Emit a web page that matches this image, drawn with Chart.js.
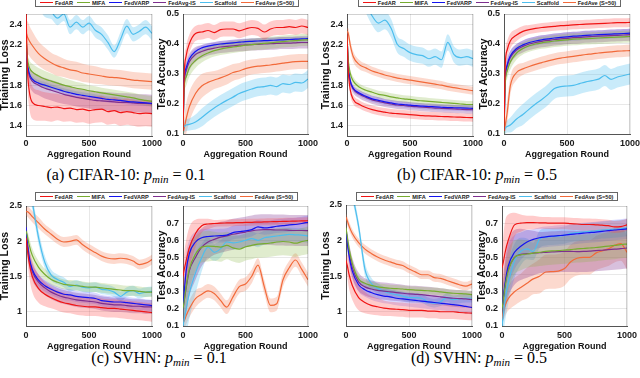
<!DOCTYPE html>
<html>
<head>
<meta charset="utf-8">
<script src="https://cdn.jsdelivr.net/npm/chart.js@4.4.0/dist/chart.umd.min.js"></script>
<style>
body { margin: 0; background: #fff; width: 640px; height: 378px; overflow: hidden; position: relative; }
canvas { position: absolute; }
.legend { position: absolute; height: 7px; border: 1px solid #666; display: flex; justify-content: space-evenly; align-items: center;
  font: bold 5.6px "Liberation Sans", Arial, sans-serif; color: #222; background: #fff; white-space: nowrap; z-index: 5; }
.legend span { display: flex; align-items: center; }
.legend i { display: inline-block; width: 13px; height: 1.5px; margin-right: 2px; }
.cap { position: absolute; width: 300px; text-align: center; line-height: 18px; font-family: "Liberation Serif", "Times New Roman", serif; font-size: 16px; color: #000; }
.cap sub { font-size: 11px; vertical-align: -3px; line-height: 0; }
</style>
</head>
<body>
<div class="legend" id="lg1" style="left:35px;top:-2px;width:262px"></div>
<div class="legend" id="lg2" style="left:358px;top:-2px;width:261px"></div>
<div class="legend" id="lg3" style="left:35px;top:192px;width:261px"></div>
<div class="legend" id="lg4" style="left:356px;top:192px;width:260px"></div>

<div class="cap" style="left:-24px;top:166px">(a) CIFAR-10: <i>p</i><sub><i>min</i></sub> = 0.1</div>
<div class="cap" style="left:327px;top:166px">(b) CIFAR-10: <i>p</i><sub><i>min</i></sub> = 0.5</div>
<div class="cap" style="left:9px;top:349px">(c) SVHN: <i>p</i><sub><i>min</i></sub> = 0.1</div>
<div class="cap" style="left:329px;top:349px">(d) SVHN: <i>p</i><sub><i>min</i></sub> = 0.5</div>

<script>
const methods = ['FedAR', 'MIFA', 'FedVARP', 'FedAvg-IS', 'Scaffold', 'FedAve (S=50)'];
const lineColors = ['#f01414', '#77ac30', '#1414f0', '#7e2f8e', '#4dbeee', '#f26a3a'];
const bandColors = ['rgba(255,70,70,0.28)', 'rgba(130,180,60,0.25)', 'rgba(60,60,255,0.2)',
                    'rgba(126,47,142,0.3)', 'rgba(77,190,238,0.3)', 'rgba(245,120,80,0.28)'];

const rounds = [0, 10, 25, 50, 100, 150, 200, 250, 300, 350, 400, 450, 500, 550, 600, 650, 700, 750, 800, 850, 900, 950, 1000];
const xTicks = [0, 500, 1000];
const lossTicksTop = [1.4, 1.6, 1.8, 2, 2.2, 2.4];
const lossTicksBottom = [1, 1.5, 2, 2.5];
const accTicksTop = [0.1, 0.2, 0.3, 0.4, 0.5];
const accTicksBottom = [0.1, 0.2, 0.3, 0.4, 0.5, 0.6, 0.7];

// (a) CIFAR-10 p_min = 0.1
const lossA = [
  [2.55,2.0,1.75,1.63,1.6,1.59,1.58,1.585,1.57,1.575,1.56,1.565,1.55,1.56,1.565,1.54,1.55,1.53,1.54,1.53,1.52,1.525,1.52],
  [2.3,2.08,1.98,1.93,1.89,1.86,1.84,1.82,1.8,1.785,1.77,1.76,1.745,1.735,1.725,1.715,1.705,1.695,1.685,1.675,1.66,1.65,1.64],
  [2.3,2.04,1.92,1.86,1.82,1.8,1.78,1.76,1.74,1.725,1.71,1.7,1.69,1.68,1.67,1.66,1.655,1.65,1.64,1.635,1.63,1.625,1.62],
  [2.3,2.02,1.9,1.84,1.8,1.77,1.75,1.73,1.71,1.695,1.68,1.67,1.66,1.65,1.645,1.64,1.635,1.63,1.63,1.625,1.62,1.62,1.615],
  [3.2,3.0,2.9,2.8,2.65,2.55,2.52,2.46,2.5,2.37,2.42,2.37,2.41,2.34,2.3,2.22,2.13,2.25,2.38,2.3,2.33,2.37,2.31],
  [2.33,2.28,2.24,2.19,2.11,2.06,2.02,1.99,1.97,1.95,1.94,1.92,1.91,1.9,1.89,1.88,1.875,1.87,1.86,1.85,1.845,1.84,1.835]
];
const lossA_sd = [
  [0.05,0.14,0.16,0.16,0.15,0.14,0.14,0.13,0.13,0.13,0.13,0.13,0.13,0.13,0.13,0.13,0.13,0.13,0.13,0.13,0.13,0.13,0.13],
  [0.02,0.05,0.07,0.08,0.08,0.08,0.075,0.07,0.07,0.065,0.06,0.06,0.055,0.055,0.05,0.05,0.05,0.05,0.05,0.05,0.05,0.05,0.05],
  [0.02,0.03,0.03,0.03,0.03,0.03,0.03,0.03,0.03,0.03,0.03,0.03,0.03,0.03,0.03,0.03,0.03,0.03,0.03,0.03,0.03,0.03,0.03],
  [0.02,0.07,0.09,0.1,0.1,0.1,0.1,0.1,0.095,0.09,0.09,0.09,0.09,0.09,0.09,0.09,0.09,0.09,0.09,0.09,0.09,0.09,0.09],
  [0.08,0.08,0.08,0.08,0.08,0.08,0.07,0.07,0.07,0.07,0.07,0.07,0.07,0.07,0.07,0.07,0.06,0.07,0.07,0.07,0.07,0.07,0.07],
  [0.05,0.15,0.15,0.14,0.12,0.11,0.1,0.1,0.09,0.09,0.09,0.09,0.085,0.085,0.08,0.08,0.08,0.08,0.08,0.08,0.08,0.08,0.08]
];
const accA = [
  [0.11,0.3,0.36,0.4,0.435,0.44,0.445,0.438,0.448,0.45,0.45,0.444,0.45,0.455,0.452,0.44,0.45,0.455,0.455,0.458,0.455,0.46,0.455],
  [0.1,0.26,0.29,0.32,0.345,0.36,0.37,0.378,0.383,0.387,0.39,0.393,0.396,0.398,0.4,0.402,0.404,0.406,0.408,0.41,0.411,0.413,0.414],
  [0.1,0.28,0.32,0.35,0.375,0.387,0.393,0.397,0.4,0.402,0.404,0.406,0.408,0.409,0.41,0.411,0.412,0.413,0.414,0.415,0.416,0.417,0.418],
  [0.1,0.27,0.31,0.34,0.365,0.375,0.382,0.386,0.39,0.392,0.394,0.396,0.397,0.398,0.399,0.4,0.401,0.402,0.403,0.403,0.404,0.405,0.405],
  [0.12,0.125,0.13,0.132,0.14,0.155,0.172,0.187,0.2,0.212,0.223,0.235,0.243,0.25,0.256,0.258,0.262,0.258,0.268,0.265,0.272,0.27,0.283],
  [0.1,0.12,0.15,0.19,0.235,0.26,0.272,0.28,0.287,0.295,0.305,0.31,0.318,0.323,0.326,0.328,0.33,0.333,0.336,0.339,0.341,0.342,0.342]
];
const accA_sd = [
  [0.01,0.03,0.03,0.03,0.025,0.025,0.025,0.025,0.025,0.025,0.025,0.025,0.025,0.025,0.025,0.025,0.025,0.025,0.025,0.025,0.025,0.025,0.025],
  [0.01,0.03,0.03,0.03,0.025,0.022,0.02,0.02,0.02,0.02,0.02,0.02,0.02,0.02,0.02,0.02,0.02,0.02,0.02,0.02,0.02,0.02,0.02],
  [0.01,0.015,0.015,0.012,0.01,0.01,0.01,0.01,0.01,0.01,0.01,0.01,0.01,0.01,0.01,0.01,0.01,0.01,0.01,0.01,0.01,0.01,0.01],
  [0.01,0.03,0.03,0.028,0.025,0.022,0.02,0.02,0.02,0.02,0.02,0.02,0.02,0.02,0.02,0.02,0.02,0.02,0.02,0.02,0.02,0.02,0.02],
  [0.02,0.02,0.02,0.02,0.025,0.03,0.03,0.03,0.03,0.03,0.03,0.03,0.03,0.03,0.03,0.03,0.03,0.03,0.03,0.03,0.03,0.03,0.03],
  [0.02,0.04,0.05,0.05,0.045,0.04,0.035,0.03,0.03,0.03,0.028,0.027,0.026,0.025,0.025,0.025,0.025,0.025,0.025,0.025,0.025,0.025,0.025]
];

// (b) CIFAR-10 p_min = 0.5
const lossB = [
  [2.3,1.95,1.76,1.66,1.61,1.58,1.56,1.545,1.535,1.525,1.52,1.515,1.51,1.505,1.5,1.497,1.495,1.492,1.49,1.487,1.485,1.482,1.48],
  [2.3,2.05,1.92,1.84,1.78,1.75,1.73,1.71,1.7,1.685,1.675,1.665,1.66,1.65,1.645,1.64,1.635,1.63,1.625,1.62,1.615,1.61,1.61],
  [2.3,2.0,1.85,1.77,1.72,1.69,1.665,1.65,1.635,1.625,1.615,1.61,1.603,1.598,1.593,1.59,1.586,1.583,1.58,1.578,1.576,1.574,1.572],
  [2.3,1.99,1.84,1.76,1.71,1.68,1.655,1.64,1.625,1.615,1.605,1.6,1.593,1.588,1.583,1.579,1.575,1.572,1.569,1.566,1.563,1.56,1.558],
  [3.2,3.1,3.0,2.9,2.75,2.6,2.48,2.41,2.44,2.36,2.2,2.16,2.12,2.1,2.09,2.06,2.08,2.05,2.22,2.1,2.07,2.08,2.06],
  [2.33,2.31,2.2,2.08,2.0,1.97,1.94,1.92,1.9,1.885,1.87,1.86,1.85,1.84,1.83,1.82,1.81,1.8,1.785,1.775,1.765,1.755,1.745]
];
const lossB_sd = [
  [0.03,0.05,0.05,0.045,0.04,0.04,0.04,0.04,0.04,0.04,0.04,0.04,0.04,0.04,0.04,0.04,0.04,0.04,0.04,0.04,0.04,0.04,0.04],
  [0.02,0.04,0.04,0.04,0.035,0.035,0.035,0.035,0.035,0.035,0.035,0.035,0.035,0.035,0.035,0.035,0.035,0.035,0.035,0.035,0.035,0.035,0.035],
  [0.02,0.03,0.03,0.03,0.03,0.03,0.03,0.03,0.03,0.03,0.03,0.03,0.03,0.03,0.03,0.03,0.03,0.03,0.03,0.03,0.03,0.03,0.03],
  [0.02,0.04,0.04,0.04,0.04,0.04,0.04,0.04,0.04,0.04,0.04,0.04,0.04,0.04,0.04,0.04,0.04,0.04,0.04,0.04,0.04,0.04,0.04],
  [0.09,0.09,0.09,0.09,0.09,0.09,0.09,0.09,0.09,0.09,0.08,0.08,0.08,0.08,0.08,0.08,0.08,0.08,0.08,0.08,0.08,0.08,0.08],
  [0.03,0.05,0.05,0.05,0.045,0.04,0.04,0.04,0.04,0.04,0.04,0.04,0.04,0.04,0.04,0.04,0.04,0.04,0.04,0.04,0.04,0.04,0.04]
];
const accB = [
  [0.11,0.33,0.38,0.41,0.43,0.442,0.448,0.452,0.455,0.457,0.459,0.461,0.462,0.464,0.465,0.466,0.467,0.468,0.469,0.47,0.471,0.471,0.472],
  [0.1,0.27,0.31,0.34,0.37,0.385,0.394,0.4,0.404,0.407,0.41,0.412,0.414,0.416,0.417,0.418,0.419,0.42,0.421,0.422,0.423,0.424,0.425],
  [0.1,0.28,0.33,0.36,0.385,0.397,0.405,0.41,0.414,0.417,0.42,0.422,0.424,0.426,0.427,0.429,0.43,0.431,0.432,0.433,0.434,0.435,0.436],
  [0.1,0.28,0.325,0.355,0.38,0.392,0.4,0.405,0.409,0.412,0.415,0.417,0.419,0.421,0.422,0.424,0.425,0.426,0.427,0.428,0.429,0.43,0.431],
  [0.11,0.12,0.125,0.13,0.15,0.165,0.183,0.2,0.215,0.232,0.252,0.258,0.26,0.262,0.268,0.274,0.278,0.283,0.295,0.282,0.29,0.295,0.3],
  [0.1,0.13,0.17,0.26,0.305,0.317,0.325,0.332,0.338,0.344,0.349,0.353,0.356,0.359,0.362,0.365,0.367,0.37,0.372,0.374,0.376,0.377,0.378]
];
const accB_sd = [
  [0.01,0.03,0.03,0.025,0.02,0.018,0.015,0.015,0.015,0.015,0.015,0.015,0.015,0.015,0.015,0.015,0.015,0.015,0.015,0.015,0.015,0.015,0.015],
  [0.01,0.025,0.025,0.025,0.022,0.02,0.02,0.02,0.02,0.02,0.02,0.02,0.02,0.02,0.02,0.02,0.02,0.02,0.02,0.02,0.02,0.02,0.02],
  [0.01,0.02,0.02,0.018,0.015,0.015,0.015,0.015,0.015,0.015,0.015,0.015,0.015,0.015,0.015,0.015,0.015,0.015,0.015,0.015,0.015,0.015,0.015],
  [0.01,0.025,0.025,0.022,0.02,0.02,0.02,0.02,0.02,0.02,0.02,0.02,0.02,0.02,0.02,0.02,0.02,0.02,0.02,0.02,0.02,0.02,0.02],
  [0.02,0.02,0.02,0.025,0.03,0.035,0.035,0.035,0.035,0.035,0.035,0.035,0.035,0.035,0.035,0.035,0.035,0.035,0.035,0.035,0.035,0.035,0.035],
  [0.02,0.03,0.04,0.03,0.025,0.02,0.02,0.02,0.02,0.02,0.02,0.02,0.02,0.02,0.02,0.02,0.02,0.02,0.02,0.02,0.02,0.02,0.02]
];

// (c) SVHN p_min = 0.1
const lossC = [
  [2.05,1.9,1.7,1.5,1.33,1.25,1.2,1.16,1.13,1.11,1.09,1.08,1.07,1.07,1.06,1.05,1.05,1.04,1.03,1.02,1.01,1.0,0.99],
  [2.15,2.08,1.95,1.8,1.63,1.53,1.46,1.42,1.39,1.38,1.37,1.36,1.35,1.35,1.34,1.33,1.32,1.31,1.3,1.3,1.29,1.28,1.28],
  [2.2,2.0,1.78,1.6,1.45,1.37,1.32,1.28,1.25,1.24,1.22,1.21,1.2,1.19,1.16,1.15,1.14,1.14,1.13,1.12,1.11,1.1,1.09],
  [2.2,1.95,1.75,1.57,1.42,1.34,1.28,1.24,1.21,1.19,1.17,1.16,1.15,1.14,1.12,1.11,1.1,1.1,1.09,1.08,1.08,1.07,1.07],
  [3.0,2.9,2.75,2.55,2.05,1.7,1.52,1.46,1.42,1.36,1.38,1.35,1.34,1.35,1.32,1.31,1.28,1.22,1.28,1.3,1.26,1.28,1.29],
  [2.42,2.42,2.4,2.35,2.26,2.17,2.1,2.03,1.99,2.0,2.02,1.95,1.89,1.84,1.79,1.76,1.75,1.76,1.75,1.72,1.67,1.69,1.74]
];
const lossC_sd = [
  [0.05,0.15,0.2,0.22,0.2,0.17,0.15,0.14,0.14,0.13,0.13,0.13,0.13,0.13,0.13,0.13,0.13,0.13,0.13,0.13,0.13,0.13,0.13],
  [0.03,0.08,0.1,0.1,0.09,0.08,0.08,0.07,0.07,0.07,0.07,0.07,0.07,0.07,0.07,0.07,0.07,0.07,0.07,0.07,0.07,0.07,0.07],
  [0.03,0.08,0.1,0.1,0.09,0.08,0.08,0.08,0.08,0.08,0.08,0.08,0.08,0.08,0.08,0.08,0.08,0.08,0.08,0.08,0.08,0.08,0.08],
  [0.03,0.1,0.12,0.12,0.11,0.1,0.1,0.1,0.1,0.1,0.1,0.1,0.1,0.1,0.1,0.1,0.1,0.1,0.1,0.1,0.1,0.1,0.1],
  [0.1,0.1,0.1,0.1,0.1,0.09,0.08,0.07,0.07,0.07,0.07,0.07,0.07,0.07,0.07,0.07,0.07,0.07,0.07,0.07,0.07,0.07,0.07],
  [0.05,0.07,0.08,0.08,0.08,0.07,0.07,0.07,0.07,0.07,0.07,0.07,0.07,0.07,0.07,0.07,0.07,0.07,0.07,0.07,0.07,0.07,0.07]
];
const accC = [
  [0.39,0.43,0.48,0.555,0.64,0.685,0.695,0.698,0.7,0.701,0.702,0.703,0.704,0.705,0.706,0.707,0.708,0.709,0.71,0.711,0.712,0.713,0.714],
  [0.2,0.25,0.33,0.43,0.52,0.56,0.566,0.565,0.56,0.57,0.556,0.548,0.562,0.57,0.578,0.58,0.584,0.59,0.593,0.59,0.583,0.592,0.6],
  [0.2,0.3,0.42,0.52,0.59,0.615,0.622,0.625,0.627,0.63,0.645,0.65,0.655,0.662,0.678,0.672,0.675,0.682,0.685,0.69,0.692,0.698,0.705],
  [0.2,0.25,0.32,0.42,0.5,0.56,0.59,0.605,0.618,0.626,0.635,0.642,0.648,0.655,0.66,0.662,0.662,0.66,0.66,0.658,0.657,0.657,0.656],
  [0.1,0.14,0.2,0.29,0.41,0.5,0.56,0.53,0.55,0.59,0.585,0.59,0.6,0.61,0.6,0.615,0.62,0.625,0.63,0.635,0.632,0.63,0.625],
  [0.12,0.13,0.16,0.2,0.26,0.285,0.305,0.29,0.25,0.21,0.27,0.33,0.345,0.39,0.455,0.33,0.22,0.23,0.37,0.44,0.485,0.43,0.37]
];
const accC_sd = [
  [0.05,0.1,0.12,0.12,0.08,0.04,0.03,0.02,0.02,0.02,0.02,0.02,0.02,0.02,0.02,0.02,0.02,0.02,0.02,0.02,0.02,0.02,0.02],
  [0.05,0.1,0.12,0.12,0.1,0.09,0.09,0.085,0.085,0.08,0.08,0.08,0.08,0.08,0.08,0.08,0.08,0.08,0.08,0.08,0.08,0.08,0.08],
  [0.05,0.1,0.1,0.08,0.06,0.05,0.045,0.04,0.04,0.04,0.04,0.04,0.04,0.04,0.04,0.04,0.04,0.04,0.04,0.04,0.04,0.04,0.04],
  [0.05,0.12,0.15,0.15,0.13,0.11,0.1,0.09,0.09,0.09,0.09,0.09,0.09,0.09,0.09,0.09,0.09,0.09,0.09,0.09,0.09,0.09,0.09],
  [0.05,0.12,0.15,0.15,0.12,0.08,0.06,0.05,0.05,0.04,0.04,0.04,0.04,0.04,0.04,0.04,0.04,0.04,0.04,0.04,0.04,0.04,0.04],
  [0.03,0.04,0.05,0.05,0.05,0.04,0.04,0.04,0.04,0.04,0.04,0.04,0.04,0.04,0.04,0.04,0.04,0.04,0.04,0.04,0.04,0.04,0.04]
];

// (d) SVHN p_min = 0.5
const lossD = [
  [1.72,1.65,1.52,1.37,1.2,1.13,1.09,1.07,1.05,1.04,1.035,1.03,1.02,1.02,1.02,1.01,1.01,1.0,1.0,1.0,0.99,0.985,0.98],
  [2.18,2.05,1.88,1.68,1.46,1.4,1.37,1.35,1.34,1.33,1.325,1.32,1.31,1.305,1.3,1.295,1.29,1.28,1.27,1.26,1.255,1.25,1.24],
  [2.15,1.98,1.78,1.57,1.38,1.31,1.27,1.24,1.22,1.21,1.19,1.18,1.17,1.16,1.15,1.14,1.13,1.12,1.11,1.1,1.09,1.075,1.06],
  [2.15,2.0,1.82,1.62,1.42,1.35,1.32,1.3,1.29,1.28,1.27,1.26,1.25,1.245,1.24,1.23,1.22,1.21,1.2,1.19,1.185,1.18,1.17],
  [3.0,2.95,2.85,2.65,2.2,1.6,1.4,1.33,1.29,1.26,1.24,1.22,1.2,1.2,1.19,1.14,1.12,1.14,1.2,1.17,1.18,1.19,1.19],
  [2.33,2.28,2.2,2.1,1.97,1.88,1.82,1.77,1.73,1.7,1.67,1.65,1.6,1.56,1.52,1.52,1.48,1.47,1.44,1.41,1.38,1.36,1.39]
];
const lossD_sd = [
  [0.05,0.15,0.2,0.2,0.18,0.15,0.13,0.12,0.11,0.1,0.1,0.1,0.1,0.1,0.1,0.1,0.1,0.1,0.1,0.1,0.1,0.1,0.1],
  [0.03,0.06,0.06,0.06,0.05,0.05,0.05,0.05,0.05,0.05,0.05,0.05,0.05,0.05,0.05,0.05,0.05,0.05,0.05,0.05,0.05,0.05,0.05],
  [0.03,0.1,0.1,0.1,0.1,0.1,0.1,0.1,0.1,0.1,0.1,0.1,0.1,0.1,0.1,0.1,0.1,0.1,0.1,0.1,0.1,0.1,0.1],
  [0.03,0.12,0.14,0.14,0.13,0.12,0.12,0.12,0.12,0.12,0.12,0.12,0.12,0.12,0.12,0.12,0.12,0.12,0.12,0.12,0.12,0.12,0.12],
  [0.08,0.08,0.08,0.08,0.08,0.1,0.08,0.07,0.06,0.06,0.06,0.06,0.06,0.06,0.06,0.06,0.06,0.06,0.06,0.06,0.06,0.06,0.06],
  [0.05,0.06,0.06,0.06,0.06,0.06,0.06,0.06,0.06,0.06,0.06,0.06,0.06,0.06,0.06,0.06,0.06,0.06,0.06,0.06,0.06,0.06,0.06]
];
const accD = [
  [0.44,0.47,0.53,0.6,0.69,0.7,0.703,0.703,0.702,0.701,0.7,0.7,0.7,0.697,0.695,0.692,0.692,0.69,0.688,0.685,0.678,0.68,0.69],
  [0.2,0.25,0.33,0.42,0.5,0.515,0.52,0.525,0.53,0.535,0.538,0.54,0.543,0.546,0.55,0.552,0.555,0.558,0.562,0.566,0.57,0.575,0.578],
  [0.2,0.26,0.35,0.45,0.53,0.565,0.59,0.605,0.615,0.62,0.624,0.627,0.63,0.634,0.638,0.642,0.645,0.648,0.652,0.656,0.66,0.663,0.667],
  [0.2,0.26,0.34,0.43,0.5,0.518,0.522,0.525,0.528,0.53,0.532,0.534,0.535,0.535,0.534,0.535,0.537,0.54,0.542,0.545,0.548,0.551,0.555],
  [0.1,0.16,0.25,0.35,0.48,0.535,0.55,0.535,0.605,0.62,0.622,0.625,0.63,0.64,0.645,0.648,0.652,0.655,0.66,0.662,0.665,0.668,0.673],
  [0.14,0.18,0.22,0.26,0.3,0.325,0.35,0.375,0.39,0.415,0.417,0.42,0.435,0.475,0.495,0.5,0.5,0.525,0.538,0.55,0.57,0.58,0.53]
];
const accD_sd = [
  [0.05,0.15,0.18,0.15,0.07,0.05,0.04,0.04,0.035,0.035,0.035,0.035,0.035,0.035,0.035,0.035,0.035,0.035,0.035,0.035,0.035,0.035,0.035],
  [0.05,0.1,0.12,0.12,0.1,0.09,0.08,0.08,0.08,0.08,0.08,0.08,0.08,0.08,0.08,0.08,0.08,0.08,0.08,0.08,0.08,0.08,0.08],
  [0.05,0.1,0.12,0.12,0.1,0.08,0.07,0.06,0.06,0.06,0.06,0.06,0.06,0.06,0.06,0.06,0.06,0.06,0.06,0.06,0.06,0.06,0.06],
  [0.05,0.12,0.15,0.16,0.16,0.15,0.14,0.13,0.12,0.12,0.12,0.12,0.12,0.12,0.12,0.12,0.12,0.12,0.12,0.12,0.12,0.12,0.12],
  [0.05,0.1,0.12,0.12,0.1,0.08,0.06,0.05,0.05,0.05,0.05,0.05,0.05,0.05,0.05,0.05,0.05,0.05,0.05,0.05,0.05,0.05,0.05],
  [0.03,0.05,0.06,0.07,0.08,0.08,0.09,0.09,0.1,0.1,0.1,0.1,0.1,0.1,0.1,0.1,0.1,0.1,0.1,0.1,0.1,0.1,0.1]
];

const FONT = '"Liberation Sans", Arial, sans-serif';

// legends
['lg1', 'lg2', 'lg3', 'lg4'].forEach(function(id) {
    const el = document.getElementById(id);
    methods.forEach(function(m, i) {
        const s = document.createElement('span');
        s.innerHTML = '<i style="background:' + lineColors[i] + '"></i>' + m;
        el.appendChild(s);
    });
});

// a little outline on the top / right sides of the axes box
const framePlugin = {
    id: 'frame',
    afterDraw(chart, args, opts) {
        const a = chart.chartArea, c = chart.ctx;
        c.save();
        c.strokeStyle = opts.color;
        c.lineWidth = 1;
        c.beginPath();
        c.moveTo(a.left, a.top + 0.5); c.lineTo(a.right, a.top + 0.5);
        c.moveTo(a.right - 0.5, a.top); c.lineTo(a.right - 0.5, a.bottom);
        c.stroke();
        c.restore();
    }
};

const panels = [
    {mean: lossA, sd: lossA_sd, ticks: lossTicksTop, min: 1.3, max: 2.5, title: 'Triaining Loss', cx: -1, left: 26, right: 152, top: 14, bottom: 136, xH: 24, tp: 2},
    {mean: accA, sd: accA_sd, ticks: accTicksTop, min: 0.1, max: 0.5, title: 'Test Accuracy', cx: 156, left: 183, right: 308, top: 14, bottom: 134, xH: 26, tp: 4},
    {mean: lossB, sd: lossB_sd, ticks: lossTicksTop, min: 1.3, max: 2.5, title: 'Training Loss', cx: 320, left: 347, right: 473, top: 14, bottom: 136, xH: 24, tp: 2},
    {mean: accB, sd: accB_sd, ticks: accTicksTop, min: 0.1, max: 0.5, title: 'Test Accuracy', cx: 478, left: 504, right: 630, top: 14, bottom: 134, xH: 26, tp: 4},
    {mean: lossC, sd: lossC_sd, ticks: lossTicksBottom, min: 0.8, max: 2.5, title: 'Training Loss', cx: -1, left: 26, right: 152, top: 206, bottom: 326, xH: 26, tp: 4},
    {mean: accC, sd: accC_sd, ticks: accTicksBottom, min: 0.1, max: 0.8, title: 'Test Accuracy', cx: 156, left: 183, right: 308, top: 206, bottom: 326, xH: 26, tp: 4},
    {mean: lossD, sd: lossD_sd, ticks: lossTicksBottom, min: 0.8, max: 2.5, title: 'Training Loss', cx: 320, left: 346, right: 472, top: 205, bottom: 326, xH: 26, tp: 4},
    {mean: accD, sd: accD_sd, ticks: accTicksBottom, min: 0.1, max: 0.8, title: 'Test Accuracy', cx: 476, left: 502, right: 627, top: 206, bottom: 326, xH: 26, tp: 4}
];

const PAD_TOP = 8, PAD_RIGHT = 10;

function makePanel(p) {
    const cv = document.createElement('canvas');
    cv.width = p.right - p.cx + PAD_RIGHT;
    cv.height = p.bottom - p.top + PAD_TOP + p.xH;
    cv.style.left = p.cx + 'px';
    cv.style.top = (p.top - PAD_TOP) + 'px';
    document.body.appendChild(cv);

    const datasets = [];
    // mean curves first so they sit on top
    p.mean.forEach(function(m, i) {
        datasets.push({
            data: rounds.map((r, j) => ({x: r, y: m[j]})),
            borderColor: lineColors[i], borderWidth: 1.2, pointRadius: 0,
            cubicInterpolationMode: 'monotone', fill: false, order: 0
        });
    });
    // shaded bands
    p.mean.forEach(function(m, i) {
        const idx = datasets.length;
        datasets.push({
            data: rounds.map((r, j) => ({x: r, y: m[j] + p.sd[i][j]})),
            borderWidth: 0, pointRadius: 0, backgroundColor: bandColors[i],
            cubicInterpolationMode: 'monotone', fill: idx + 1, order: 1
        });
        datasets.push({
            data: rounds.map((r, j) => ({x: r, y: m[j] - p.sd[i][j]})),
            borderWidth: 0, pointRadius: 0,
            cubicInterpolationMode: 'monotone', fill: false, order: 1
        });
    });

    new Chart(cv, {
        type: 'line',
        data: {datasets: datasets},
        plugins: [framePlugin],
        options: {
            responsive: false,
            animation: false,
            devicePixelRatio: 1,
            layout: {padding: {top: PAD_TOP, right: PAD_RIGHT, left: 0, bottom: 0}},
            plugins: {legend: {display: false}, tooltip: {enabled: false}, frame: {color: 'rgba(0,0,0,0.18)'}},
            scales: {
                x: {
                    type: 'linear', min: 0, max: 1000,
                    afterBuildTicks: s => { s.ticks = xTicks.map(v => ({value: v})); },
                    afterFit: s => { s.height = p.xH; s.paddingLeft = 0; s.paddingRight = 0; },
                    ticks: {font: {family: FONT, size: 9, weight: 'bold'}, color: '#1a1a1a', padding: p.tp, maxRotation: 0, autoSkip: false,
                            callback: v => String(v)},
                    grid: {color: 'rgba(0,0,0,0.09)', drawTicks: false},
                    border: {color: '#555'},
                    title: {display: true, text: 'Aggregation Round', font: {family: FONT, size: 9, weight: 'bold'}, color: '#111', padding: 0}
                },
                y: {
                    min: p.min, max: p.max,
                    afterBuildTicks: s => { s.ticks = p.ticks.map(v => ({value: v})); },
                    afterFit: s => { s.width = p.left - p.cx; s.paddingTop = 0; s.paddingBottom = 0; },
                    ticks: {font: {family: FONT, size: 9, weight: 'bold'}, color: '#1a1a1a', padding: 4,
                            callback: v => String(+v.toFixed(2))},
                    grid: {color: 'rgba(0,0,0,0.09)', drawTicks: false},
                    border: {color: '#555'},
                    title: {display: true, text: p.title, font: {family: FONT, size: 10.5, weight: 'bold'}, color: '#111', padding: 0}
                }
            }
        }
    });
}

panels.forEach(makePanel);
</script>
</body>
</html>
